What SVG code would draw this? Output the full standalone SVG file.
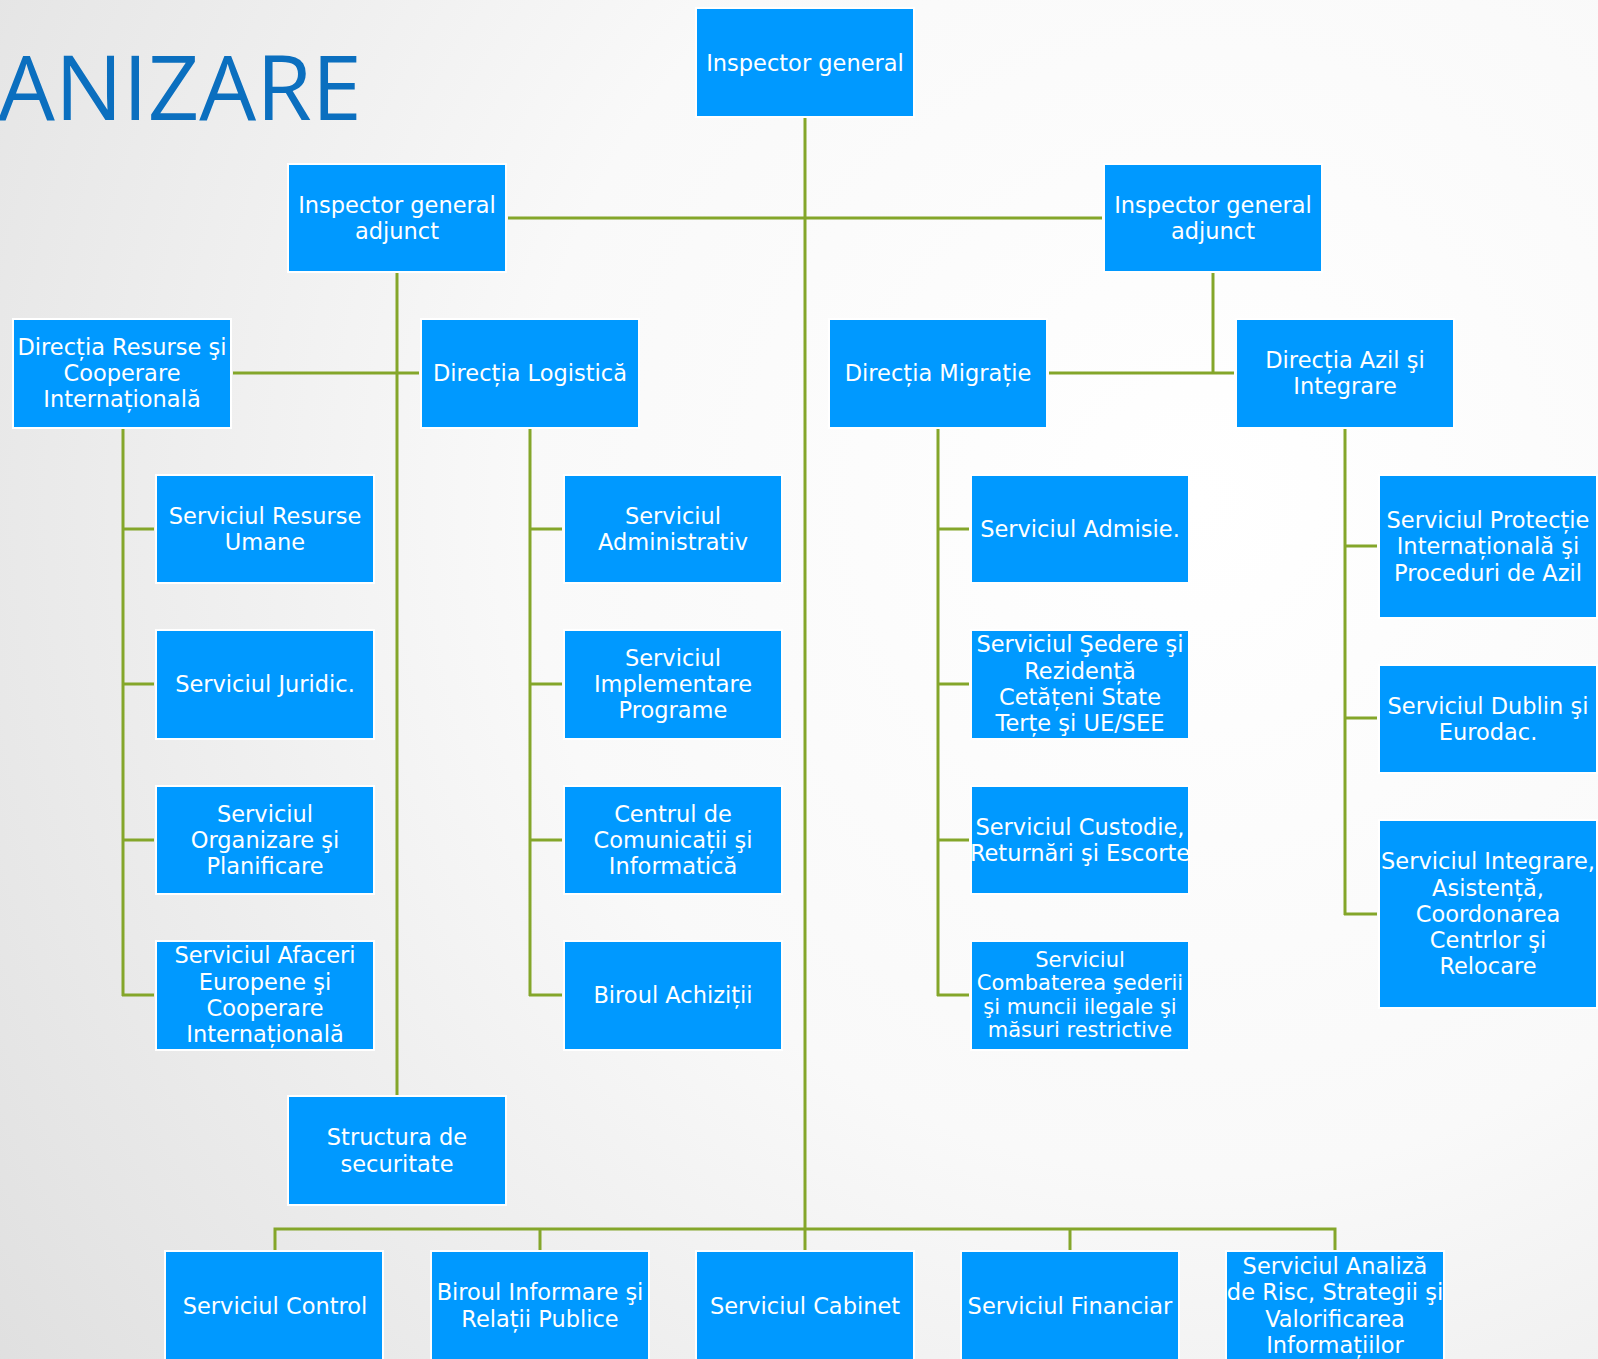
<svg xmlns="http://www.w3.org/2000/svg" width="1598" height="1359" viewBox="0 0 1598 1359">
<defs>
<radialGradient id="bg" gradientUnits="userSpaceOnUse" cx="1200" cy="500" r="1500">
<stop offset="0" stop-color="#ffffff"/>
<stop offset="0.45" stop-color="#f9f9f9"/>
<stop offset="1" stop-color="#dfdfdf"/>
</radialGradient>
<style>
.b{fill:#0099FF;stroke:#ffffff;stroke-width:2}
.t{fill:#ffffff;font-family:"DejaVu Sans","Liberation Sans",sans-serif;font-size:22.5px;text-anchor:middle}
.s{font-size:21px}
.c{fill:none;stroke:#84a62a;stroke-width:3}
.title{fill:#0B6FBF;font-family:"Open Sans","Liberation Sans",sans-serif;font-size:90px}
</style>
</defs>
<rect x="0" y="0" width="1598" height="1359" fill="url(#bg)"/>
<text class="title" x="-2" y="120">ANIZARE</text>

<g id="connectors">
<path class="c" d="M805 118V1252"/>
<path class="c" d="M508 218H1102"/>
<path class="c" d="M397 273V1095"/>
<path class="c" d="M233 373H419"/>
<path class="c" d="M1213 273V373"/>
<path class="c" d="M1049 373H1234"/>
<path class="c" d="M123 429V996M123 529H154M123 684H154M123 840H154M122 995H154"/>
<path class="c" d="M530 429V996M530 529H562M530 684H562M530 840H562M529 995H562"/>
<path class="c" d="M938 429V996M938 529H969M938 684H969M938 840H969M937 995H969"/>
<path class="c" d="M1345 429V915M1345 546H1377M1345 718H1377M1344 914H1377"/>
<path class="c" d="M275 1252V1229H1335V1252M540 1229V1252M1070 1229V1252"/>
</g>

<g id="n-ig"><rect class="b" x="696" y="8" width="218" height="109"/><text class="t" x="805" y="71">Inspector general</text></g>
<g id="n-iga-l"><rect class="b" x="288" y="164" width="218" height="108"/><text class="t"><tspan x="397" y="213">Inspector general</tspan><tspan x="397" y="239">adjunct</tspan></text></g>
<g id="n-iga-r"><rect class="b" x="1104" y="164" width="218" height="108"/><text class="t"><tspan x="1213" y="213">Inspector general</tspan><tspan x="1213" y="239">adjunct</tspan></text></g>

<g id="n-dir-resurse"><rect class="b" x="13" y="319" width="218" height="109"/><text class="t"><tspan x="122" y="355">Direcția Resurse şi</tspan><tspan x="122" y="381">Cooperare</tspan><tspan x="122" y="407">Internațională</tspan></text></g>
<g id="n-dir-logistica"><rect class="b" x="421" y="319" width="218" height="109"/><text class="t" x="530" y="381">Direcția Logistică</text></g>
<g id="n-dir-migratie"><rect class="b" x="829" y="319" width="218" height="109"/><text class="t" x="938" y="381">Direcția Migrație</text></g>
<g id="n-dir-azil"><rect class="b" x="1236" y="319" width="218" height="109"/><text class="t"><tspan x="1345" y="368">Direcția Azil şi</tspan><tspan x="1345" y="394">Integrare</tspan></text></g>

<g id="n-resurse-umane"><rect class="b" x="156" y="475" width="218" height="108"/><text class="t"><tspan x="265" y="524">Serviciul Resurse</tspan><tspan x="265" y="550">Umane</tspan></text></g>
<g id="n-juridic"><rect class="b" x="156" y="630" width="218" height="109"/><text class="t" x="265" y="692">Serviciul Juridic.</text></g>
<g id="n-organizare"><rect class="b" x="156" y="786" width="218" height="108"/><text class="t"><tspan x="265" y="822">Serviciul</tspan><tspan x="265" y="848">Organizare şi</tspan><tspan x="265" y="874">Planificare</tspan></text></g>
<g id="n-afaceri"><rect class="b" x="156" y="941" width="218" height="109"/><text class="t"><tspan x="265" y="963">Serviciul Afaceri</tspan><tspan x="265" y="990">Europene şi</tspan><tspan x="265" y="1016">Cooperare</tspan><tspan x="265" y="1042">Internațională</tspan></text></g>

<g id="n-administrativ"><rect class="b" x="564" y="475" width="218" height="108"/><text class="t"><tspan x="673" y="524">Serviciul</tspan><tspan x="673" y="550">Administrativ</tspan></text></g>
<g id="n-implementare"><rect class="b" x="564" y="630" width="218" height="109"/><text class="t"><tspan x="673" y="666">Serviciul</tspan><tspan x="673" y="692">Implementare</tspan><tspan x="673" y="718">Programe</tspan></text></g>
<g id="n-comunicatii"><rect class="b" x="564" y="786" width="218" height="108"/><text class="t"><tspan x="673" y="822">Centrul de</tspan><tspan x="673" y="848">Comunicații şi</tspan><tspan x="673" y="874">Informatică</tspan></text></g>
<g id="n-achizitii"><rect class="b" x="564" y="941" width="218" height="109"/><text class="t" x="673" y="1003">Biroul Achiziții</text></g>

<g id="n-admisie"><rect class="b" x="971" y="475" width="218" height="108"/><text class="t" x="1080" y="537">Serviciul Admisie.</text></g>
<g id="n-sedere"><rect class="b" x="971" y="630" width="218" height="109"/><text class="t"><tspan x="1080" y="652">Serviciul Şedere şi</tspan><tspan x="1080" y="679">Rezidență</tspan><tspan x="1080" y="705">Cetățeni State</tspan><tspan x="1080" y="731">Terțe şi  UE/SEE</tspan></text></g>
<g id="n-custodie"><rect class="b" x="971" y="786" width="218" height="108"/><text class="t"><tspan x="1080" y="835">Serviciul Custodie,</tspan><tspan x="1080" y="861">Returnări şi Escorte</tspan></text></g>
<g id="n-combaterea"><rect class="b" x="971" y="941" width="218" height="109"/><text class="t s"><tspan x="1080" y="967">Serviciul</tspan><tspan x="1080" y="990">Combaterea şederii</tspan><tspan x="1080" y="1014">şi muncii ilegale şi</tspan><tspan x="1080" y="1037">măsuri restrictive</tspan></text></g>

<g id="n-protectie"><rect class="b" x="1379" y="475" width="218" height="143"/><text class="t"><tspan x="1488" y="528">Serviciul Protecție</tspan><tspan x="1488" y="554">Internațională şi</tspan><tspan x="1488" y="581">Proceduri de Azil</tspan></text></g>
<g id="n-dublin"><rect class="b" x="1379" y="665" width="218" height="108"/><text class="t"><tspan x="1488" y="714">Serviciul Dublin şi</tspan><tspan x="1488" y="740">Eurodac.</tspan></text></g>
<g id="n-integrare"><rect class="b" x="1379" y="820" width="218" height="188"/><text class="t"><tspan x="1488" y="869">Serviciul Integrare,</tspan><tspan x="1488" y="896">Asistență,</tspan><tspan x="1488" y="922">Coordonarea</tspan><tspan x="1488" y="948">Centrlor şi</tspan><tspan x="1488" y="974">Relocare</tspan></text></g>

<g id="n-structura"><rect class="b" x="288" y="1096" width="218" height="109"/><text class="t"><tspan x="397" y="1145">Structura de</tspan><tspan x="397" y="1172">securitate</tspan></text></g>

<g id="n-control"><rect class="b" x="165" y="1251" width="218" height="112"/><text class="t" x="275" y="1314">Serviciul Control</text></g>
<g id="n-informare"><rect class="b" x="431" y="1251" width="218" height="112"/><text class="t"><tspan x="540" y="1300">Biroul Informare şi</tspan><tspan x="540" y="1327">Relații Publice</tspan></text></g>
<g id="n-cabinet"><rect class="b" x="696" y="1251" width="218" height="112"/><text class="t" x="805" y="1314">Serviciul Cabinet</text></g>
<g id="n-financiar"><rect class="b" x="961" y="1251" width="218" height="112"/><text class="t" x="1070" y="1314">Serviciul Financiar</text></g>
<g id="n-analiza"><rect class="b" x="1226" y="1251" width="218" height="112"/><text class="t"><tspan x="1335" y="1274">Serviciul Analiză</tspan><tspan x="1335" y="1300">de Risc, Strategii şi</tspan><tspan x="1335" y="1327">Valorificarea</tspan><tspan x="1335" y="1353">Informațiilor</tspan></text></g>
</svg>
